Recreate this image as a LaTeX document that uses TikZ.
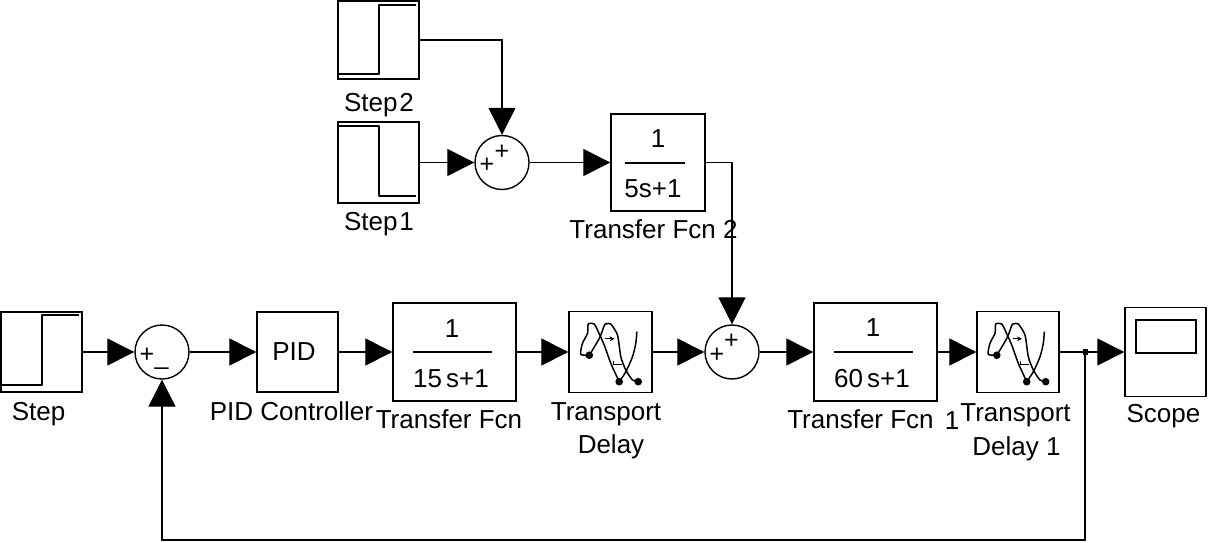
\documentclass[tikz,border=0pt]{standalone}
\usepackage{fontspec}
\setmainfont{Liberation Sans}
\usetikzlibrary{arrows.meta,calc}
\begin{document}
\begin{tikzpicture}[x=1pt,y=-1pt,
  blk/.style={draw,line width=1.4pt,rectangle,inner sep=0pt},
  sumc/.style={draw,line width=1.4pt,circle,minimum size=54pt,inner sep=0pt},
  conn/.style={line width=1.3pt,-{Triangle[length=27pt,width=27pt]}},
  wire/.style={line width=1.3pt},
  icon/.style={line width=1.5pt,line join=round},
  lbl/.style={font=\fontsize{26}{30}\selectfont,inner sep=0pt,anchor=base},
  sgn/.style={font=\fontsize{25}{29}\selectfont,inner sep=0pt,anchor=base},
  delayicon/.pic={
    \draw[icon] plot[smooth,tension=0.4] coordinates {(-21.2,3.2) (-29.8,2.3) (-28,-8.7) (-23,-18.7) (-22.3,-28) (-16.3,-28) (-13,-22) (-6.3,-7) (0.3,11.3) (8.7,29.7)};
    \draw[icon] plot[smooth,tension=0.4] coordinates {(-21.2,3.2) (-11,-14) (-6,-27) (-4,-28.2) (0.3,-28) (7,-17) (10.3,4.7) (15.3,18) (22,28) (27.7,29.7)};
    \draw[icon] plot[smooth,tension=0.5] coordinates {(8.7,29.7) (15.3,19.7) (22,4.7) (25.3,-8.7) (26.3,-20.3)};
    \draw[line width=1.2pt,-{Stealth[length=5pt,width=5pt]}] (-5.5,-13.2) -- (4,-13.2);
    \draw[line width=1.2pt] (2.8,9) -- (2.8,13) (2.8,12.5) -- (11,12.5);
    \fill (-21.2,3.2) circle (3.8);
    \fill (8.7,29.7) circle (3.8);
    \fill (27.7,29.7) circle (3.8);
  }
]
\useasboundingbox (0,0) rectangle (1208,542);
\fill[white] (0,0) rectangle (1208,542);

% ---- top row ----
\node[blk,minimum width=81pt,minimum height=78pt] (step2) at (378.5,40) {};
\node[blk,minimum width=81pt,minimum height=81pt] (step1) at (378.5,162.5) {};
\node[sumc] (sumt) at (502,162.5) {};
\node[blk,minimum width=94pt,minimum height=97pt] (tf2) at (658,162.5) {};

% ---- bottom row ----
\node[blk,minimum width=81pt,minimum height=80pt] (step0) at (41.5,352) {};
\node[sumc] (sum1) at (162,352) {};
\node[blk,minimum width=81pt,minimum height=80pt] (pid) at (297.5,352) {};
\node[blk,minimum width=123pt,minimum height=98pt] (tf) at (454.5,352) {};
\node[blk,minimum width=83pt,minimum height=81pt] (td) at (610.5,352) {};
\node[sumc] (sum2) at (732,352) {};
\node[blk,minimum width=123pt,minimum height=98pt] (tf1) at (875.5,352) {};
\node[blk,minimum width=82pt,minimum height=81pt] (td1) at (1018,352) {};
\node[blk,minimum width=81pt,minimum height=89pt] (scope) at (1165.5,352) {};
\coordinate (br) at (1085,352);
\coordinate (fb) at (1085,540);

% ---- step icons ----
\draw[icon] (338,74) -- (379,74) -- (379,5) -- (416,5);
\draw[icon] (338,126) -- (379,126) -- (379,196) -- (416,196);
\draw[icon] (1,385) -- (42,385) -- (42,315) -- (79,315);

% ---- scope screen ----
\draw[line width=1.4pt] (1136,320) rectangle (1196,353);

% ---- delay icons ----
\pic at (td) {delayicon};
\pic at (td1) {delayicon};

% ---- block contents ----
\node[lbl] at (294,360) {PID};
\node[lbl] at (452,337) {1};
\draw[line width=1.3pt] (413,352) -- (492,352);
\node[lbl] at (451,387) {15\hspace{4pt}s+1};
\node[lbl] at (873,336) {1};
\draw[line width=1.3pt] (834,352) -- (913,352);
\node[lbl] at (872,387) {60\hspace{4pt}s+1};
\node[lbl] at (658,147) {1};
\draw[line width=1.3pt] (625,163) -- (685,163);
\node[lbl] at (653,197) {5s+1};

% ---- sum signs ----
\node[sgn] at (147,362) {+};
\node[sgn] at (161.5,364.5) {\_};
\node[sgn] at (717,362) {+};
\node[sgn] at (731.5,348) {+};
\node[sgn] at (487,172) {+};
\node[sgn] at (502,159) {+};

% ---- connectors ----
\draw[conn] (step2.east) -| (sumt.north);
\draw[conn] (step1.east) -- (sumt.west);
\draw[conn] (sumt.east) -- (tf2.west);
\draw[conn] (tf2.east) -| (sum2.north);
\draw[conn] (step0.east) -- (sum1.west);
\draw[conn] (sum1.east) -- (pid.west);
\draw[conn] (pid.east) -- (tf.west);
\draw[conn] (tf.east) -- (td.west);
\draw[conn] (td.east) -- (sum2.west);
\draw[conn] (sum2.east) -- (tf1.west);
\draw[conn] (tf1.east) -- (td1.west);
\draw[wire] (td1.east) -- (br);
\draw[conn] (br) -- (scope.west);
\draw[conn] (br) -- (fb) -| (sum1.south);
\node[fill,minimum width=5pt,minimum height=6pt,inner sep=0pt] at (br) {};

% ---- labels ----
\node[lbl] at (379,111) {Step\hspace{2pt}2};
\node[lbl] at (379,230) {Step\hspace{2pt}1};
\node[lbl] at (653.5,238) {Transfer Fcn 2};
\node[lbl] at (38.5,420) {Step};
\node[lbl] at (291.5,420) {PID Controller};
\node[lbl] at (449,428) {Transfer Fcn};
\node[lbl] at (606,420) {Transport};
\node[lbl] at (611,453) {Delay};
\node[lbl] at (860.5,428) {Transfer Fcn};
\node[lbl] at (952,429) {1};
\node[lbl] at (1015.5,421) {Transport};
\node[lbl] at (1016.5,455) {Delay 1};
\node[lbl] at (1163.5,422) {Scope};
\end{tikzpicture}
\end{document}
